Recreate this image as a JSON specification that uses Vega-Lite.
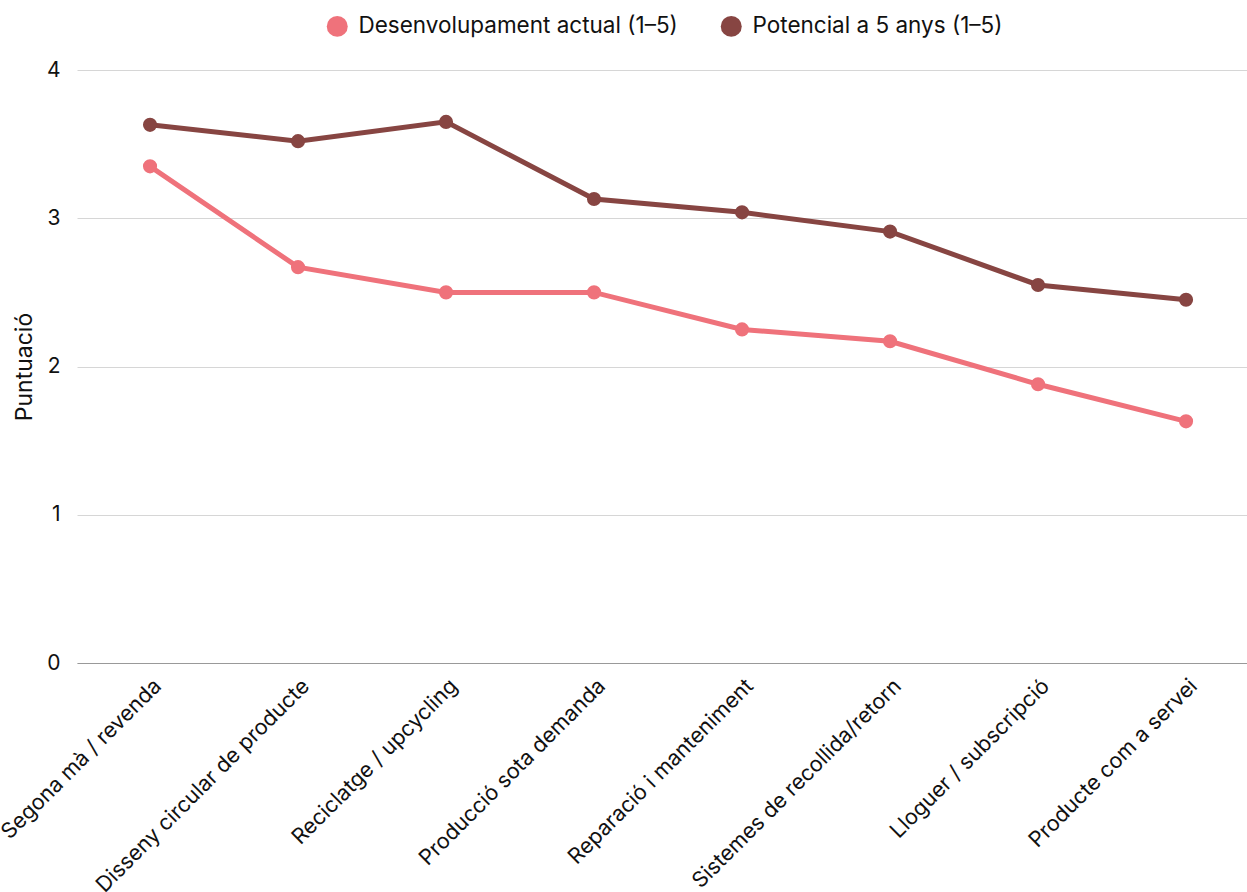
{
  "$schema": "https://vega.github.io/schema/vega-lite/v6.json",
  "width": 1170,
  "height": 593,
  "autosize": {"type": "none"},
  "padding": {"left": 77, "top": 70, "right": 0, "bottom": 229},
  "background": "white",
  "data": {
    "values": [
      {"ambit": "Segona mà / revenda", "serie": "Desenvolupament actual (1–5)", "puntuacio": 3.35},
      {"ambit": "Disseny circular de producte", "serie": "Desenvolupament actual (1–5)", "puntuacio": 2.67},
      {"ambit": "Reciclatge / upcycling", "serie": "Desenvolupament actual (1–5)", "puntuacio": 2.5},
      {"ambit": "Producció sota demanda", "serie": "Desenvolupament actual (1–5)", "puntuacio": 2.5},
      {"ambit": "Reparació i manteniment", "serie": "Desenvolupament actual (1–5)", "puntuacio": 2.25},
      {"ambit": "Sistemes de recollida/retorn", "serie": "Desenvolupament actual (1–5)", "puntuacio": 2.17},
      {"ambit": "Lloguer / subscripció", "serie": "Desenvolupament actual (1–5)", "puntuacio": 1.88},
      {"ambit": "Producte com a servei", "serie": "Desenvolupament actual (1–5)", "puntuacio": 1.63},
      {"ambit": "Segona mà / revenda", "serie": "Potencial a 5 anys (1–5)", "puntuacio": 3.63},
      {"ambit": "Disseny circular de producte", "serie": "Potencial a 5 anys (1–5)", "puntuacio": 3.52},
      {"ambit": "Reciclatge / upcycling", "serie": "Potencial a 5 anys (1–5)", "puntuacio": 3.65},
      {"ambit": "Producció sota demanda", "serie": "Potencial a 5 anys (1–5)", "puntuacio": 3.13},
      {"ambit": "Reparació i manteniment", "serie": "Potencial a 5 anys (1–5)", "puntuacio": 3.04},
      {"ambit": "Sistemes de recollida/retorn", "serie": "Potencial a 5 anys (1–5)", "puntuacio": 2.91},
      {"ambit": "Lloguer / subscripció", "serie": "Potencial a 5 anys (1–5)", "puntuacio": 2.55},
      {"ambit": "Producte com a servei", "serie": "Potencial a 5 anys (1–5)", "puntuacio": 2.45}
    ]
  },
  "encoding": {
    "x": {
      "field": "ambit",
      "type": "nominal",
      "sort": null,
      "scale": {"type": "point", "padding": 0.4527, "align": 0.545},
      "axis": {
        "title": null,
        "labelAngle": -45,
        "labelAlign": "right",
        "labelBaseline": "top",
        "labelPadding": 12,
        "labelFontSize": 21.5,
        "labelColor": "#111",
        "labelFont": "Inter",
        "labelLimit": 400,
        "ticks": false,
        "domain": true,
        "domainColor": "#999",
        "domainWidth": 1,
        "grid": false
      }
    },
    "y": {
      "field": "puntuacio",
      "type": "quantitative",
      "scale": {"domain": [0, 4], "nice": false},
      "axis": {
        "title": "Puntuació",
        "titleFontSize": 23,
        "titleFontWeight": "normal",
        "titleFont": "Inter",
        "titleColor": "#111",
        "titlePadding": 10,
        "values": [0, 1, 2, 3, 4],
        "labelFontSize": 21,
        "labelColor": "#111",
        "labelFont": "Inter",
        "labelPadding": 17,
        "ticks": false,
        "domain": false,
        "grid": true,
        "gridColor": "#d6d6d6",
        "gridWidth": 1
      }
    },
    "color": {
      "field": "serie",
      "type": "nominal",
      "scale": {
        "domain": ["Desenvolupament actual (1–5)", "Potencial a 5 anys (1–5)"],
        "range": ["#ef727b", "#874542"]
      },
      "legend": {
        "title": null,
        "orient": "none",
        "legendX": 249,
        "legendY": -55,
        "direction": "horizontal",
        "symbolType": "circle",
        "symbolSize": 440,
        "symbolStrokeWidth": 0,
        "symbolOpacity": 1,
        "labelFontSize": 22.5,
        "labelFont": "Inter",
        "labelColor": "#111",
        "labelOffset": 10,
        "labelLimit": 500,
        "columnPadding": 42
      }
    }
  },
  "layer": [
    {"mark": {"type": "line", "strokeWidth": 5}},
    {"mark": {"type": "point", "filled": true, "size": 200, "opacity": 1}}
  ],
  "config": {"view": {"stroke": null}}
}
